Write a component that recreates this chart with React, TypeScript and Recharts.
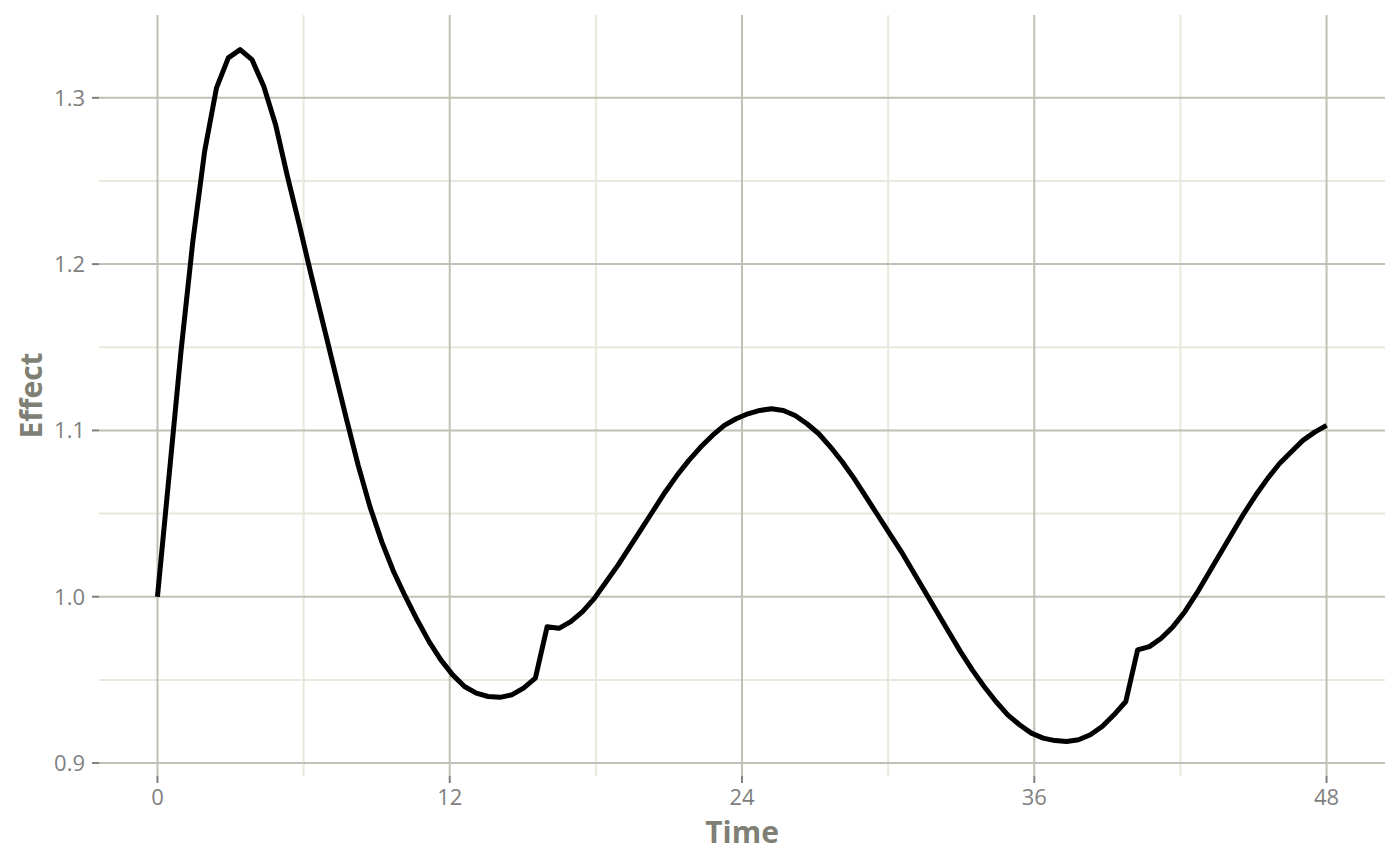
import { LineChart, Line, XAxis, YAxis, CartesianGrid } from "recharts";

// time grid, 100 samples over 0..48 h
const time = [
  0, 0.485, 0.97, 1.455, 1.939, 2.424, 2.909, 3.394, 3.879, 4.364,
  4.848, 5.333, 5.818, 6.303, 6.788, 7.273, 7.758, 8.242, 8.727, 9.212,
  9.697, 10.182, 10.667, 11.152, 11.636, 12.121, 12.606, 13.091, 13.576, 14.061,
  14.545, 15.03, 15.515, 16.0, 16.485, 16.97, 17.455, 17.939, 18.424, 18.909,
  19.394, 19.879, 20.364, 20.848, 21.333, 21.818, 22.303, 22.788, 23.273, 23.758,
  24.242, 24.727, 25.212, 25.697, 26.182, 26.667, 27.152, 27.636, 28.121, 28.606,
  29.091, 29.576, 30.061, 30.545, 31.03, 31.515, 32.0, 32.485, 32.97, 33.455,
  33.939, 34.424, 34.909, 35.394, 35.879, 36.364, 36.848, 37.333, 37.818, 38.303,
  38.788, 39.273, 39.758, 40.242, 40.727, 41.212, 41.697, 42.182, 42.667, 43.152,
  43.636, 44.121, 44.606, 45.091, 45.576, 46.061, 46.545, 47.03, 47.515, 48.0,
];

const effect = [
  1.0, 1.074, 1.148, 1.214, 1.268, 1.306, 1.324, 1.329, 1.323, 1.307,
  1.284, 1.253, 1.224, 1.194, 1.165, 1.136, 1.107, 1.079, 1.054, 1.033,
  1.015, 1.0, 0.986, 0.973, 0.962, 0.953, 0.946, 0.942, 0.94, 0.9395,
  0.941, 0.945, 0.951, 0.982, 0.981, 0.985, 0.991, 0.999, 1.009, 1.019,
  1.03, 1.041, 1.052, 1.063, 1.073, 1.082, 1.09, 1.097, 1.103, 1.107,
  1.11, 1.112, 1.113, 1.112, 1.109, 1.104, 1.098, 1.09, 1.081, 1.071,
  1.06, 1.049, 1.038, 1.027, 1.015, 1.003, 0.991, 0.979, 0.967, 0.956,
  0.946, 0.937, 0.929, 0.923, 0.918, 0.915, 0.9135, 0.913, 0.914, 0.917,
  0.922, 0.929, 0.937, 0.968, 0.97, 0.975, 0.982, 0.991, 1.002, 1.014,
  1.026, 1.038, 1.05, 1.061, 1.071, 1.08, 1.087, 1.094, 1.099, 1.103,
];

const xTicks = [0, 12, 24, 36, 48];
const xMinorTicks = [6, 18, 30, 42];
const yTicks = [0.9, 1.0, 1.1, 1.2, 1.3];
const yMinorTicks = [0.95, 1.05, 1.15, 1.25];

const data = time.map((t, i) => ({ time: t, effect: effect[i] }));

const xDomain = [-2.4, 50.4];
const yDomain = [0.8922, 1.3498];

const tickStyle = { fill: "#7f7f7f", fontSize: 22, fontFamily: "Open Sans" };
const titleColor = "#7f7f75";

function XTitle({ viewBox }: any) {
  const { x, y, width, height } = viewBox;
  return (
    <text
      x={x + width / 2}
      y={y + height - 22}
      textAnchor="middle"
      fill={titleColor}
      fontSize={30}
      fontWeight="bold"
      fontFamily="Open Sans"
    >
      Time
    </text>
  );
}

function YTitle({ viewBox }: any) {
  const { y, height } = viewBox;
  return (
    <text
      transform={`translate(42, ${y + height / 2}) rotate(-90)`}
      textAnchor="middle"
      fill={titleColor}
      fontSize={30}
      fontWeight="bold"
      fontFamily="Open Sans"
    >
      Effect
    </text>
  );
}

export default function App() {
  return (
    <div style={{ position: "absolute", left: 0, top: 0, background: "#fff" }}>
      <LineChart
        width={1400}
        height={865}
        data={data}
        margin={{ top: 15, right: 15, bottom: 0, left: 0 }}
      >
        <CartesianGrid
          horizontalValues={yMinorTicks}
          verticalValues={xMinorTicks}
          stroke="#e8e8dc"
          strokeWidth={2}
        />
        <CartesianGrid
          horizontalValues={yTicks}
          verticalValues={xTicks}
          stroke="#c0c0b4"
          strokeWidth={2}
        />
        <XAxis
          dataKey="time"
          type="number"
          domain={xDomain}
          ticks={xTicks}
          allowDataOverflow
          axisLine={false}
          tickLine={{ stroke: "#7f7f7f", strokeWidth: 2 }}
          tickSize={7}
          tickMargin={6}
          tick={tickStyle}
          height={89}
          label={{ content: XTitle }}
        />
        <YAxis
          type="number"
          domain={yDomain}
          ticks={yTicks}
          allowDataOverflow
          tickFormatter={(v: number) => v.toFixed(1)}
          axisLine={false}
          tickLine={{ stroke: "#7f7f7f", strokeWidth: 2 }}
          tickSize={7}
          tickMargin={7}
          tick={tickStyle}
          width={99}
          label={{ content: YTitle }}
        />
        <Line
          dataKey="effect"
          type="linear"
          stroke="#000"
          strokeWidth={5}
          strokeLinejoin="round"
          dot={false}
          isAnimationActive={false}
        />
      </LineChart>
    </div>
  );
}
